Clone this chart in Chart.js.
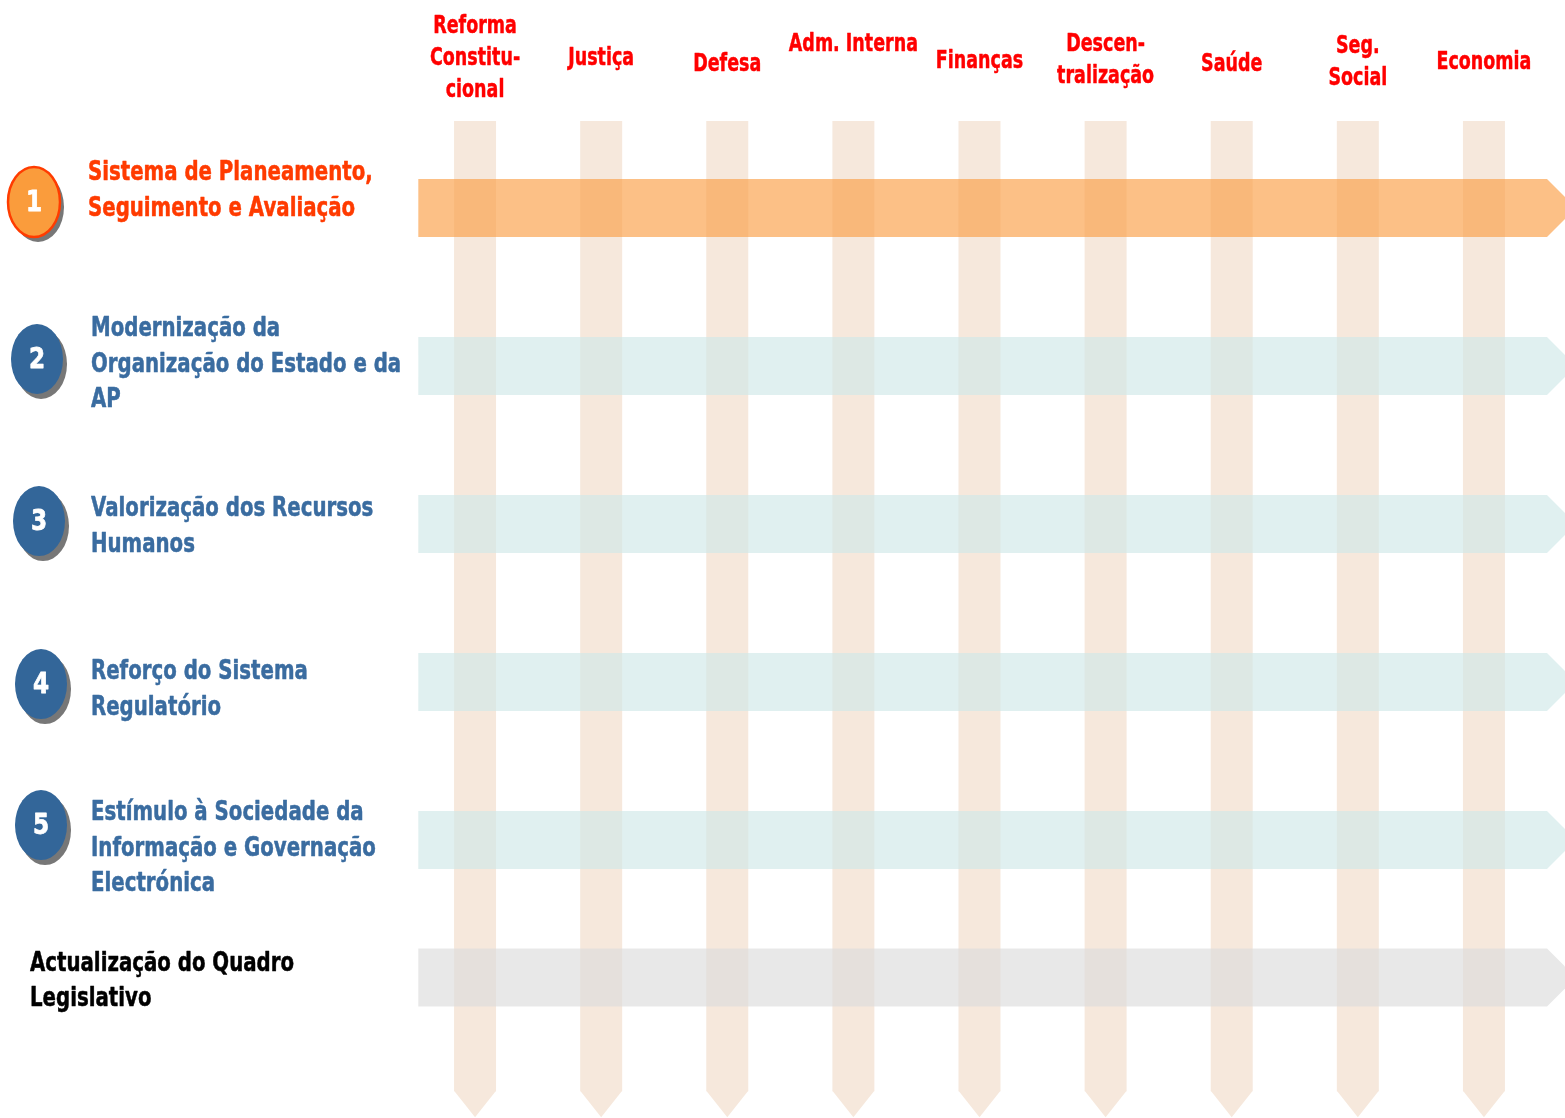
<!DOCTYPE html>
<html>
<head>
<meta charset="utf-8">
<title>Eixos da Reforma por Sector</title>
<script src="https://cdn.jsdelivr.net/npm/chart.js@4.4.1/dist/chart.umd.min.js"></script>
<style>
  html, body { margin: 0; padding: 0; background: #ffffff; }
  #wrap { width: 1565px; height: 1118px; }
</style>
</head>
<body>
<div id="wrap"><canvas id="matrixChart"></canvas></div>
<script>
// Sectores (colunas) - cabeçalho em várias linhas
const sectors = [
  ['Reforma', 'Constitu-', 'cional'],
  ['Justiça'],
  ['Defesa'],
  ['Adm. Interna'],
  ['Finanças'],
  ['Descen-', 'tralização'],
  ['Saúde'],
  ['Seg.', 'Social'],
  ['Economia']
];

// Eixos da reforma (linhas)
const axisNumbers = ['1', '2', '3', '4', '5', ''];
const axisLabels = [
  ['Sistema de Planeamento,', 'Seguimento e Avaliação'],
  ['Modernização da', 'Organização do Estado e da', 'AP'],
  ['Valorização dos Recursos', 'Humanos'],
  ['Reforço do Sistema', 'Regulatório'],
  ['Estímulo à Sociedade da', 'Informação e Governação', 'Electrónica'],
  ['Actualização do Quadro', 'Legislativo']
];
// posição de cada eixo na escala vertical
const axisLevels = [1, 2, 3, 4, 5, 5.87];
const axisKinds = ['focus', 'normal', 'normal', 'normal', 'normal', 'base'];

// extensão de cada seta vertical (início, fim) na escala vertical
const sectorSpan = [0.45, 6.59];

// ---- aspecto ----
const kindStyle = {
  focus:  { band: 'rgba(250,160,72,0.66)',  text: '#ff3b00', fill: '#fa9c3c', ring: '#ff3c00' },
  normal: { band: 'rgba(208,232,232,0.66)', text: '#3a6ca0', fill: '#336699', ring: null },
  base:   { band: 'rgba(220,220,220,0.66)', text: '#000000', fill: null, ring: null }
};
const columnColor = '#f6e8dc';
const bandHalf = 0.1835;          // meia altura das faixas (unidades y)
const headerY = [58, 58, 64, 44, 61, 60, 64, 62, 62];
const labelX = [88, 91, 91, 91, 91, 30];
const labelDy = [-17, -1, 3, 8, 9, 4];
const circleX = [34, 37, 39, 41, 41];
const circleDy = [-6, -7, -3, 2, -15];
const FONT = '"DejaVu Sans", Verdana, sans-serif';

function drawSqueezed(ctx, lines, x, cy, size, lineH, color, align, squeeze, weight) {
  ctx.save();
  ctx.font = 'bold ' + size + 'px ' + FONT;
  ctx.fillStyle = color;
  ctx.strokeStyle = color;
  ctx.lineWidth = weight;
  ctx.lineJoin = 'round';
  ctx.textAlign = align;
  ctx.textBaseline = 'middle';
  ctx.translate(x, 0);
  ctx.scale(squeeze, 1);
  const top = cy - (lines.length - 1) * lineH / 2;
  lines.forEach((t, i) => {
    ctx.fillText(t, 0, top + i * lineH);
    if (weight > 0) ctx.strokeText(t, 0, top + i * lineH);
  });
  ctx.restore();
}

const matrixPlugin = {
  id: 'matrix',
  afterDatasetsDraw(chart) {
    const { ctx, scales: { x, y } } = chart;
    ctx.save();

    // pontas das setas verticais
    ctx.fillStyle = columnColor;
    chart.getDatasetMeta(0).data.forEach(bar => {
      const end = Math.max(bar.y, bar.base);
      const w = bar.width;
      ctx.beginPath();
      ctx.moveTo(bar.x - w / 2, end - 0.5);
      ctx.lineTo(bar.x + w / 2, end - 0.5);
      ctx.lineTo(bar.x, end + w * 0.62);
      ctx.closePath();
      ctx.fill();
    });

    // faixas horizontais com seta
    const x0 = x.getPixelForValue(-0.45);
    const x1 = x.getPixelForValue(sectors.length - 0.5);
    axisLevels.forEach((lv, i) => {
      const top = y.getPixelForValue(lv - bandHalf);
      const bot = y.getPixelForValue(lv + bandHalf);
      const mid = (top + bot) / 2;
      ctx.fillStyle = kindStyle[axisKinds[i]].band;
      ctx.beginPath();
      ctx.moveTo(x0, top);
      ctx.lineTo(x1, top);
      ctx.lineTo(x1 + (bot - top) / 2, mid);
      ctx.lineTo(x1, bot);
      ctx.lineTo(x0, bot);
      ctx.closePath();
      ctx.fill();
    });

    // cabeçalhos dos sectores
    sectors.forEach((lines, i) => {
      drawSqueezed(ctx, lines, x.getPixelForValue(i), headerY[i], 25, 32, '#ff0000', 'center', 0.7, 0.5);
    });

    // etiquetas e círculos dos eixos
    axisLevels.forEach((lv, i) => {
      const st = kindStyle[axisKinds[i]];
      const cy = y.getPixelForValue(lv);
      if (axisNumbers[i]) {
        const ex = circleX[i], ey = cy + circleDy[i];
        ctx.fillStyle = '#777777';
        ctx.beginPath();
        ctx.ellipse(ex + 4, ey + 5, 26, 35, 0, 0, Math.PI * 2);
        ctx.fill();
        ctx.fillStyle = st.fill;
        ctx.beginPath();
        ctx.ellipse(ex, ey, 26, 35, 0, 0, Math.PI * 2);
        ctx.fill();
        if (st.ring) {
          ctx.strokeStyle = st.ring;
          ctx.lineWidth = 2.5;
          ctx.stroke();
        }
        drawSqueezed(ctx, [axisNumbers[i]], ex, ey + 1, 29, 30, '#ffffff', 'center', 0.8, 0.8);
      }
      drawSqueezed(ctx, axisLabels[i], labelX[i], cy + labelDy[i], 26, 35.5, st.text, 'left', 0.76, 0.55);
    });

    ctx.restore();
  }
};

const chartCtx = document.getElementById('matrixChart');
new Chart(chartCtx, {
  type: 'bar',
  data: {
    labels: sectors.map(s => s.join(' ')),
    datasets: [{
      label: 'Sectores',
      data: sectors.map(() => sectorSpan),
      backgroundColor: columnColor,
      borderWidth: 0,
      barPercentage: 0.333,
      categoryPercentage: 1
    }]
  },
  options: {
    responsive: true,
    maintainAspectRatio: false,
    animation: false,
    layout: { padding: { left: 412, right: 18, top: 0, bottom: 0 } },
    plugins: {
      legend: { display: false },
      tooltip: { enabled: false }
    },
    scales: {
      x: { display: false, offset: true },
      y: { display: false, reverse: true, min: -0.3165, max: 6.759 }
    }
  },
  plugins: [matrixPlugin]
});
</script>
</body>
</html>
